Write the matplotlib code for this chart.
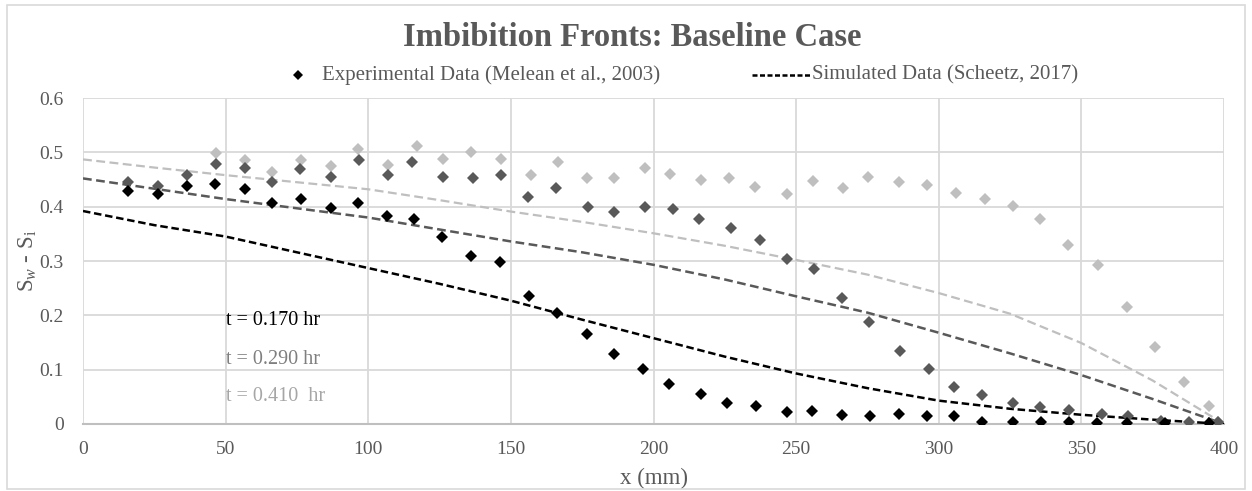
import matplotlib
matplotlib.use("Agg")
import matplotlib.pyplot as plt
from matplotlib.patches import Rectangle

plt.rcParams['font.family'] = ['Liberation Serif', 'DejaVu Serif']
plt.rcParams['mathtext.fontset'] = 'custom'
plt.rcParams['mathtext.rm'] = 'Liberation Serif'
plt.rcParams['mathtext.it'] = 'Liberation Serif:italic'

# ---------------- data ----------------
exp_x_017 = [15.7, 26.3, 36.5, 46.3, 56.8, 66.4, 76.5, 87.0, 96.5, 106.6, 115.9, 126.0, 136.1,
             146.3, 156.5, 166.0, 176.7, 186.0, 196.2, 205.5, 216.5, 225.9, 236.0, 246.7,
             255.7, 266.2, 275.9, 286.1, 295.8, 305.5, 315.3, 325.9, 336.0, 345.7, 355.4,
             365.9, 379.3, 394.7]
exp_y_017 = [0.429, 0.423, 0.438, 0.442, 0.432, 0.407, 0.415, 0.397, 0.407, 0.383, 0.377, 0.344,
             0.309, 0.299, 0.236, 0.205, 0.166, 0.129, 0.101, 0.074, 0.055, 0.039, 0.033, 0.023,
             0.024, 0.017, 0.015, 0.018, 0.015, 0.015, 0.004, 0.004, 0.004, 0.004, 0.002,
             0.002, 0.002, 0.002]

exp_x_029 = [15.7, 26.3, 36.5, 46.8, 56.8, 66.4, 76.1, 87.0, 96.7, 106.8, 115.4, 126.3, 136.7,
             146.5, 156.0, 165.7, 177.1, 186.0, 196.9, 206.8, 216.0, 227.3, 237.2, 246.7,
             256.4, 266.2, 275.6, 286.4, 296.6, 305.5, 315.3, 325.9, 335.5, 345.7, 357.2,
             366.2, 377.9, 387.8, 397.8]
exp_y_029 = [0.446, 0.438, 0.458, 0.479, 0.471, 0.446, 0.469, 0.455, 0.485, 0.458, 0.483, 0.454,
             0.452, 0.458, 0.417, 0.434, 0.399, 0.391, 0.399, 0.395, 0.377, 0.360, 0.339, 0.303,
             0.285, 0.231, 0.188, 0.135, 0.101, 0.068, 0.053, 0.039, 0.031, 0.026, 0.018,
             0.015, 0.006, 0.004, 0.004]

exp_x_041 = [46.8, 56.8, 66.4, 76.5, 87.0, 96.5, 106.8, 117.0, 126.3, 136.1, 146.7, 157.2,
             166.6, 176.7, 186.0, 196.9, 205.9, 216.5, 226.6, 235.5, 246.7, 255.8, 266.6,
             275.3, 286.1, 295.8, 306.0, 316.1, 326.2, 335.5, 345.2, 355.9, 366.0, 375.8,
             385.9, 394.8, 397.8]
exp_y_041 = [0.498, 0.486, 0.463, 0.486, 0.475, 0.507, 0.477, 0.512, 0.487, 0.501, 0.487, 0.458,
             0.483, 0.452, 0.452, 0.471, 0.460, 0.450, 0.452, 0.436, 0.423, 0.448, 0.434,
             0.454, 0.446, 0.440, 0.426, 0.414, 0.401, 0.377, 0.329, 0.293, 0.215, 0.141,
             0.078, 0.033, 0.004]

sim_x = [0, 25, 50, 75, 100, 125, 150, 175, 200, 225, 250, 275, 300, 325, 350, 375, 400]
sim_y_017 = [0.392, 0.366, 0.345, 0.316, 0.287, 0.258, 0.227, 0.192, 0.158, 0.124, 0.093,
             0.066, 0.043, 0.028, 0.017, 0.008, 0.0]
sim_y_029 = [0.452, 0.433, 0.414, 0.397, 0.380, 0.358, 0.336, 0.316, 0.293, 0.266, 0.235,
             0.205, 0.168, 0.130, 0.090, 0.046, 0.0]
sim_y_041 = [0.487, 0.472, 0.458, 0.445, 0.432, 0.412, 0.391, 0.372, 0.351, 0.328, 0.302,
             0.275, 0.241, 0.203, 0.149, 0.080, 0.0]

time_labels = ['t = 0.170 hr', 't = 0.290 hr', 't = 0.410  hr']
x_ticks = [0, 50, 100, 150, 200, 250, 300, 350, 400]
y_ticks = [0, 0.1, 0.2, 0.3, 0.4, 0.5, 0.6]
y_tick_labels = ['0', '0.1', '0.2', '0.3', '0.4', '0.5', '0.6']

# ---------------- figure ----------------
fig = plt.figure(figsize=(12.52, 4.91), dpi=100)
ax = fig.add_axes([83/1252, 67/491, (1224-83)/1252, (424-98)/491])

c_black = '#000000'
c_dark = '#595959'
c_light = '#BFBFBF'
txt_gray = '#595959'

ms = 6
ax.plot(sim_x, sim_y_041, ls=(0, (4, 2)), color=c_light, lw=1.6, zorder=3)
ax.plot(sim_x, sim_y_029, ls=(0, (3.5, 1.8)), color=c_dark, lw=1.8, zorder=3)
ax.plot(sim_x, sim_y_017, ls=(0, (3, 1.5)), color=c_black, lw=1.8, zorder=3)
ax.plot(exp_x_041, exp_y_041, 'D', color=c_light, ms=ms, mew=0, zorder=4)
ax.plot(exp_x_029, exp_y_029, 'D', color=c_dark, ms=ms, mew=0, zorder=5)
ax.plot(exp_x_017, exp_y_017, 'D', color=c_black, ms=ms, mew=0, zorder=6)

ax.set_xlim(0, 400)
ax.set_ylim(0, 0.6)
ax.set_xticks(x_ticks)
ax.set_yticks(y_ticks)
ax.set_yticklabels(y_tick_labels)
ax.grid(True, color='#D9D9D9', lw=1.3, zorder=0)
ax.set_axisbelow(True)
for s in ['top', 'right', 'left']:
    ax.spines[s].set_visible(False)
ax.spines['bottom'].set_color('#BFBFBF')
ax.spines['bottom'].set_linewidth(1.5)
ax.tick_params(length=0, labelsize=14, colors=txt_gray)
ax.tick_params(axis='x', pad=12)
ax.tick_params(axis='y', pad=14)

ax.set_xlabel('x (mm)', fontsize=16.5, color=txt_gray, labelpad=7)
ax.set_ylabel(r'S$_{w}$ - S$_{\mathrm{i}}$', fontsize=16.5, color=txt_gray, labelpad=0)

# time annotations
for lab, yv, col in zip(time_labels, [0.190, 0.119, 0.050], ['#000000', '#7F7F7F', '#A6A6A6']):
    ax.text(50.2, yv, lab, fontsize=14.5, color=col, va='center', ha='left')

# title
fig.text(632/1252, 1 - 37/491, 'Imbibition Fronts: Baseline Case', ha='center', va='center',
         fontsize=23.5, fontweight='bold', color=txt_gray)

# legend (manual)
leg_y = 1 - 75/491
fig.add_artist(plt.Line2D([298/1252], [leg_y], marker='D', color=c_black, ms=5.5,
                          mew=0, transform=fig.transFigure))
fig.text(322/1252, leg_y, 'Experimental Data (Melean et al., 2003)', ha='left',
         va='center', fontsize=15, color=txt_gray)
fig.add_artist(plt.Line2D([752/1252, 810/1252], [leg_y, leg_y],
                          ls=(0, (2, 1)), color=c_black, lw=1.8, transform=fig.transFigure))
fig.text(812/1252, leg_y, 'Simulated Data (Scheetz, 2017)', ha='left', va='center',
         fontsize=15, color=txt_gray)

# chart border
fig.add_artist(Rectangle((7/1252, 2/491), 1238/1252, 484/491, transform=fig.transFigure,
                         fill=False, edgecolor='#D9D9D9', lw=1.2))

fig.savefig('out.png', dpi=100)
